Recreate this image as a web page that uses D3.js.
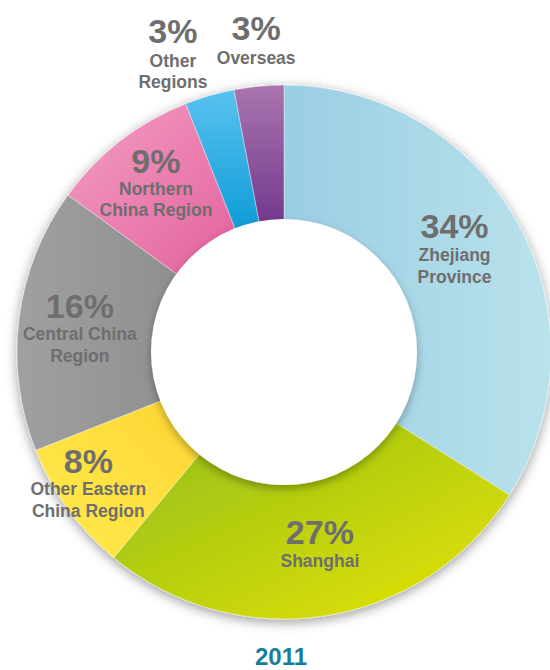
<!DOCTYPE html>
<html>
<head>
<meta charset="utf-8">
<script src="https://cdn.jsdelivr.net/npm/d3@7"></script>
<style>
  html, body { margin: 0; padding: 0; background: #ffffff; }
  svg { display: block; }
</style>
</head>
<body>
<svg id="chart" width="550" height="670"></svg>
<script>
// ---- data ----
const categories = ["Zhejiang Province", "Shanghai", "Other Eastern China Region", "Central China Region", "Northern China Region", "Other Regions", "Overseas"];
const values = [34, 27, 8, 16, 9, 3, 3];
const labelLines = [["Zhejiang", "Province"], ["Shanghai"], ["Other Eastern", "China Region"], ["Central China", "Region"], ["Northern", "China Region"], ["Other", "Regions"], ["Overseas"]];
const yearLabel = "2011";

// ---- styling / layout (not data) ----
const gradStops = [
  { dir: [0, 0, 1, 0], c: ["#9acee3", "#b9e2eb"] },
  { dir: [0, 0, 1, 1], c: ["#92bd1c", "#e6e400"] },
  { dir: [1, 0, 0, 1], c: ["#fdd433", "#ffec4d"] },
  { dir: [1, 0, 0, 0], c: ["#8f8f8f", "#a0a0a0"] },
  { dir: [0, 0, 1, 1], c: ["#f39fc5", "#e3609b"] },
  { dir: [0, 0, 0, 1], c: ["#58c2ef", "#0e9bd7"] },
  { dir: [0, 0, 0, 1], c: ["#aa75af", "#72378d"] }
];
const labelAngleShift = [-4.9, -1.6, 4.3, 2.3, 2.2, -3.6, 0.3];
const labelRadius = [205, 195, 230, 207, 220, 328, 313];
const lineGaps = [[23, 45], [23], [22, 44], [22, 44], [22, 43], [24, 45], [24]];

const cx = 284, cy = 352, rOuter = 267, rInner = 133;
const svg = d3.select("#chart");
const defs = svg.append("defs");

gradStops.forEach((g, i) => {
  const lg = defs.append("linearGradient").attr("id", "g" + i)
    .attr("x1", g.dir[0]).attr("y1", g.dir[1]).attr("x2", g.dir[2]).attr("y2", g.dir[3]);
  lg.append("stop").attr("offset", "0%").attr("stop-color", g.c[0]);
  lg.append("stop").attr("offset", "100%").attr("stop-color", g.c[1]);
});

const f1 = defs.append("filter").attr("id", "outerShadow")
  .attr("x", "-20%").attr("y", "-20%").attr("width", "140%").attr("height", "140%");
f1.append("feDropShadow").attr("dx", 0).attr("dy", 3).attr("stdDeviation", 6)
  .attr("flood-color", "#000").attr("flood-opacity", 0.4);

const f2 = defs.append("filter").attr("id", "innerShadow")
  .attr("x", "-20%").attr("y", "-20%").attr("width", "140%").attr("height", "140%");
f2.append("feDropShadow").attr("dx", 0).attr("dy", 4).attr("stdDeviation", 4)
  .attr("flood-color", "#000").attr("flood-opacity", 0.3);

const pie = d3.pie().sort(null).value(d => d)(values);
const arc = d3.arc().innerRadius(rInner - 6).outerRadius(rOuter);

const g = svg.append("g").attr("transform", `translate(${cx},${cy})`);
const ring = g.append("g").attr("filter", "url(#outerShadow)");
ring.selectAll("path.slice").data(pie).enter().append("path")
  .attr("class", "slice")
  .attr("d", arc)
  .attr("fill", (d, i) => `url(#g${i})`)
  .attr("stroke", "rgba(255,255,255,0.55)")
  .attr("stroke-width", 0.7);

// inner white disc with its soft shadow
g.append("circle").attr("r", rInner).attr("fill", "#ffffff").attr("filter", "url(#innerShadow)");

// labels
const labels = g.selectAll("g.lab").data(pie).enter().append("g").attr("class", "lab")
  .attr("transform", (d, i) => {
    const a = (d.startAngle + d.endAngle) / 2 + labelAngleShift[i] * Math.PI / 180;
    const r = labelRadius[i];
    return `translate(${r * Math.sin(a)},${-r * Math.cos(a)})`;
  });
labels.append("text")
  .attr("text-anchor", "middle")
  .attr("font-family", "'Liberation Sans', Arial, Helvetica, sans-serif")
  .attr("font-weight", "bold")
  .attr("font-size", 34)
  .attr("fill", "#6e6e6e")
  .text(d => d.data + "%");
labels.each(function (d, i) {
  const sel = d3.select(this);
  labelLines[i].forEach((ln, j) => {
    sel.append("text")
      .attr("text-anchor", "middle")
      .attr("y", lineGaps[i][j])
      .attr("font-family", "'Liberation Sans', Arial, Helvetica, sans-serif")
      .attr("font-weight", "bold")
      .attr("font-size", 17.5)
      .attr("fill", "#6e6e6e")
      .text(ln);
  });
});

svg.append("text")
  .attr("x", 281).attr("y", 665)
  .attr("text-anchor", "middle")
  .attr("font-family", "'Liberation Sans', Arial, Helvetica, sans-serif")
  .attr("font-weight", "bold")
  .attr("font-size", 24)
  .attr("fill", "#1a7d98")
  .text(yearLabel);
</script>
</body>
</html>
